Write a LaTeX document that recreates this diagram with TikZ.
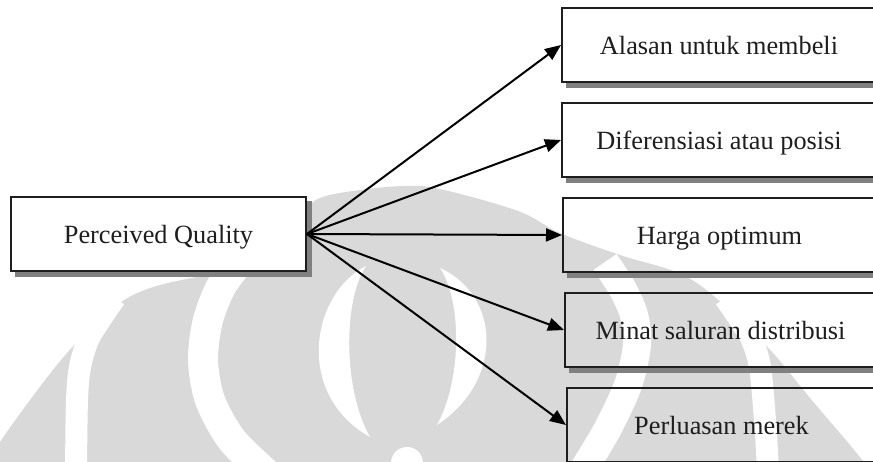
\documentclass[tikz,border=0pt]{standalone}
\usepackage{fontspec}
\setmainfont{Liberation Serif}
\usetikzlibrary{arrows.meta}
\definecolor{wmgray}{HTML}{D9D9D9}
\definecolor{shadegray}{HTML}{808080}
\definecolor{inkdark}{HTML}{1E1E1E}
\begin{document}
\begin{tikzpicture}[x=1pt,y=-1pt,
  box/.style={draw=inkdark, line width=2pt, minimum height=74pt, inner sep=0pt,
    text=inkdark, font=\fontsize{26.3pt}{30pt}\selectfont,
    text height=18pt, text depth=0pt},
  drop/.style={draw=shadegray, line width=5pt, line join=miter},
  link/.style={draw=black, line width=2pt, -{Triangle[length=16pt,width=13pt]}},
  gap/.style={draw=white, line cap=butt, line width=#1}]
\useasboundingbox (0,0) rectangle (873,461);
\clip (0,0) rectangle (873,461);

% faint emblem in the background
\fill[wmgray] plot[smooth, tension=0.6] coordinates {(-5,452) (0,442) (30,400) (67,353)
  (107,313) (150,288) (250,262) (300,215) (320,198) (360,190) (405,186) (440,189)
  (518,211) (560,233) (620,255) (685,276) (733,313) (773,353) (810,398) (850,445) (870,470)}
  -- (-5,470) -- cycle;
\draw[gap=22pt] plot[smooth] coordinates {(76,470) (77,400) (80,367) (88,340) (100,320) (115,298)};
\draw[gap=22pt] plot[smooth] coordinates {(768,470) (765,420) (760,367) (752,340) (740,320) (725,298)};
\draw[gap=30pt] plot[smooth] coordinates {(268,475) (232,440) (210,400) (203,360) (208,320) (222,285) (245,255)};
\draw[gap=28pt] plot[smooth] coordinates {(580,475) (607,430) (628,385) (637,345) (634,315) (622,288) (605,262)};
\fill[white] (366,266) .. controls (310,295) and (295,395) .. (370,437)
  .. controls (343,390) and (343,300) .. (366,266) -- cycle;
\fill[white] (440,268) .. controls (500,295) and (505,380) .. (437,425)
  .. controls (462,380) and (462,300) .. (440,268) -- cycle;
\fill[white] (407,463) circle[radius=16pt];

% boxes
\node[box, fill=white, minimum width=295pt] (pq) at (158.5,234) {Perceived Quality};
\node[box, minimum width=314pt] (b1) at (719,45) {Alasan untuk membeli};
\node[box, minimum width=314pt] (b2) at (719,140) {Diferensiasi atau posisi};
\node[box, minimum width=313pt] (b3) at (719.5,235) {Harga optimum};
\node[box, minimum width=311pt] (b4) at (720.5,330) {Minat saluran distribusi};
\node[box, minimum width=309pt] (b5) at (721.5,425) {Perluasan merek};

% drop shadows along the lower and right edges
\foreach \n in {pq,b1,b2,b3,b4,b5}
  \draw[drop] ([xshift=5pt,yshift=-2.5pt]\n.south west)
    -- ([xshift=2.5pt,yshift=-2.5pt]\n.south east)
    -- ([xshift=2.5pt,yshift=-5pt]\n.north east);

% connectors
\foreach \n in {b1,b2,b3,b4,b5}
  \draw[link] (pq.east) -- (\n.west);
\end{tikzpicture}
\end{document}
